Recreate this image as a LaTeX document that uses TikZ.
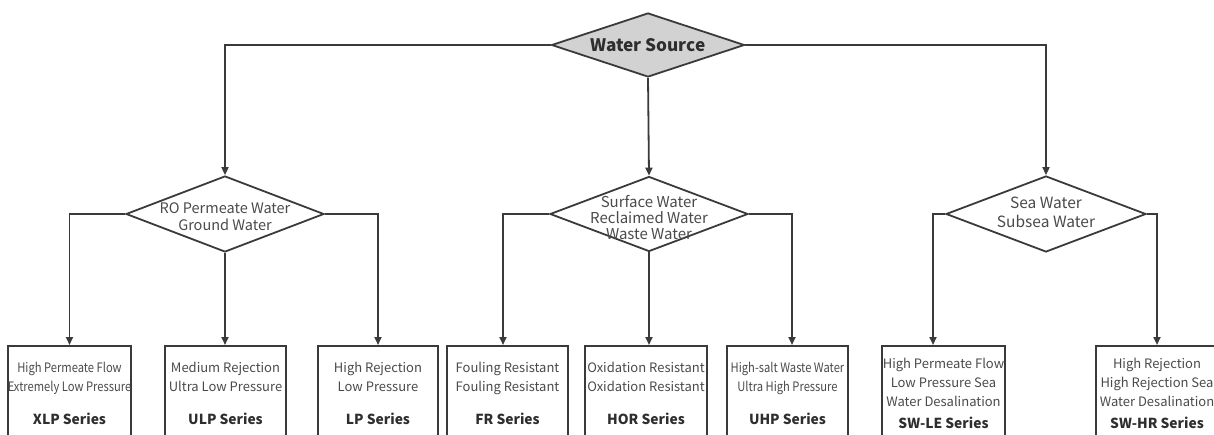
\documentclass[tikz,border=0pt]{standalone}
\usepackage{fontspec}
\usepackage{graphicx}
\setmainfont{Noto Sans CJK SC}
\usetikzlibrary{shapes.geometric,arrows.meta}
\definecolor{ln}{HTML}{3A3A3A}
\definecolor{tx}{HTML}{4A4A4A}
\definecolor{sr}{HTML}{2E2E2E}
\definecolor{df}{HTML}{D2D2D2}
\newcommand{\serf}[1]{{\fontsize{13.8}{17}\selectfont\bfseries\color{sr}#1}}
\newcommand{\sq}[1]{\scalebox{0.86}[1]{#1}}
\begin{document}
\begin{tikzpicture}[x=1pt,y=-1pt,
  dia/.style={diamond, draw=ln, line width=1.8pt, inner sep=0pt},
  dtext/.style={align=center, text=tx, inner sep=0pt},
  box/.style={rectangle, draw=ln, line width=1.8pt, minimum width=121pt, minimum height=96pt, anchor=north, align=center, text=tx, font=\fontsize{13}{19}\selectfont, inner sep=0pt},
  conn/.style={draw=ln, line width=1.8pt, -{Triangle[length=8pt,width=7pt]}}
]
\useasboundingbox (0,0) rectangle (1214,435);
\clip (0,0) rectangle (1214,435);

% diamonds
\node[dia, fill=df, minimum width=193pt, minimum height=64pt] (src) at (648,45) {};
\node[font=\fontsize{17.2}{20}\selectfont\bfseries, text=sr, inner sep=0pt] (srct) at (648,45) {Water Source};

\node[dia, minimum width=198pt, minimum height=76pt] (L) at (225,214) {};
\node[dtext, font=\fontsize{14.5}{17}\selectfont] (Lt) at (225,216.5) {RO Permeate Water\\Ground Water};

\node[dia, minimum width=198pt, minimum height=75pt] (M) at (649,214) {};
\node[dtext, font=\fontsize{15}{16}\selectfont] (Mt) at (649,218) {Surface Water\\Reclaimed Water\\Waste Water};

\node[dia, minimum width=200pt, minimum height=76pt] (R) at (1046,214) {};
\node[dtext, font=\fontsize{15.5}{19}\selectfont] (Rt) at (1046,212.5) {Sea Water\\Subsea Water};

% boxes
\node[box] (xlp) at (69.5,345) {\sq{High Permeate Flow}\\\sq{Extremely Low Pressure}\\[14pt]\serf{XLP Series}};
\node[box] (ulp) at (225.5,345) {Medium Rejection\\Ultra Low Pressure\\[14pt]\serf{ULP Series}};
\node[box, minimum width=120pt] (lp) at (378,345) {High Rejection\\Low Pressure\\[14pt]\serf{LP Series}};
\node[box] (fr) at (507.5,345) {Fouling Resistant\\Fouling Resistant\\[14pt]\serf{FR Series}};
\node[box, minimum width=122pt] (hor) at (646,345) {Oxidation Resistant\\Oxidation Resistant\\[14pt]\serf{HOR Series}};
\node[box] (uhp) at (787.5,345) {\sq{High-salt Waste Water}\\\sq{Ultra High Pressure}\\[14pt]\serf{UHP Series}};
\node[box, minimum width=123pt] (swle) at (943.5,345) {High Permeate Flow\\Low Pressure Sea\\Water Desalination\\[3pt]\serf{SW-LE Series}};
\node[box, minimum width=122pt] (swhr) at (1157,345) {High Rejection\\High Rejection Sea\\Water Desalination\\[3pt]\serf{SW-HR Series}};

% connectors
\draw[conn] (src.west) -| (L.north);
\draw[conn] (src.south) -- (M.north);
\draw[conn] (src.east) -| (R.north);

\draw[conn] (L.west) -| (xlp.north);
\draw[conn] (L.south) -- (L.south |- ulp.north);
\draw[conn] (L.east) -| (lp.north);

\draw[conn] (M.west) -| ([xshift=-4.5pt]fr.north);
\draw[conn] (M.south) -- (M.south |- hor.north);
\draw[conn] (M.east) -| ([xshift=4.5pt]uhp.north);

\draw[conn] (R.west) -| ([xshift=-10.5pt]swle.north);
\draw[conn] (R.east) -| (swhr.north);
\end{tikzpicture}
\end{document}
